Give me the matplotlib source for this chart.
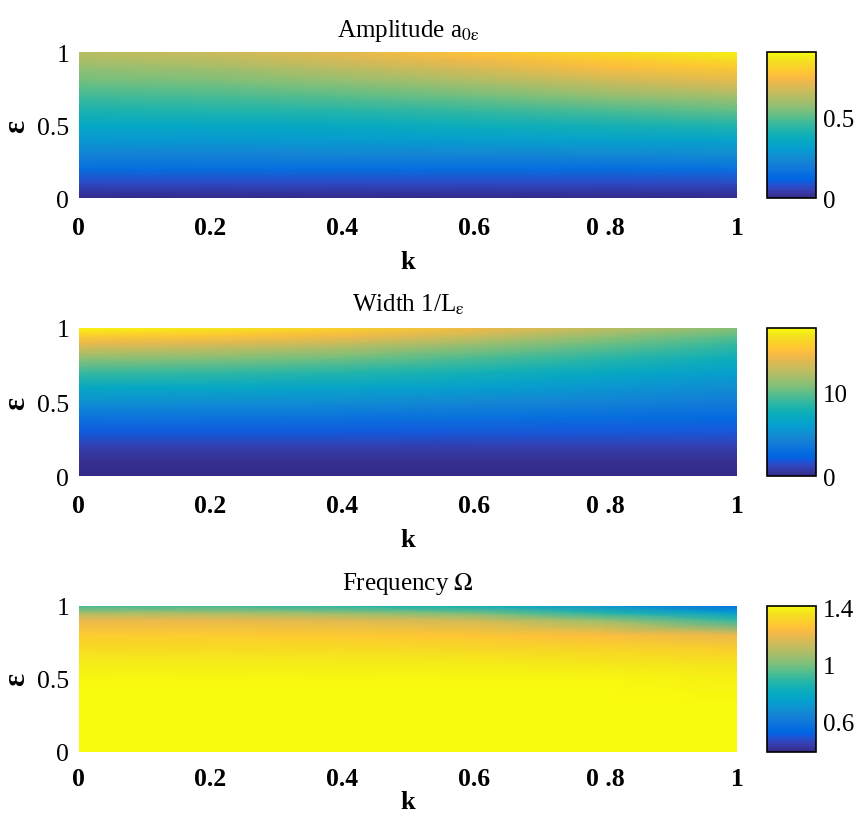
import numpy as np
import matplotlib
matplotlib.use("Agg")
import matplotlib.pyplot as plt
from matplotlib.colors import LinearSegmentedColormap

plt.rcParams['font.family'] = ['Liberation Serif', 'DejaVu Serif']
plt.rcParams['mathtext.fontset'] = 'stix'

# MATLAB parula colormap (64 levels)
PARULA = [
    [0.2081, 0.1663, 0.5292], [0.2116, 0.1898, 0.5777], [0.2123, 0.2138, 0.6270],
    [0.2081, 0.2386, 0.6771], [0.1959, 0.2645, 0.7279], [0.1707, 0.2919, 0.7792],
    [0.1253, 0.3242, 0.8303], [0.0591, 0.3598, 0.8683], [0.0117, 0.3875, 0.8820],
    [0.0060, 0.4086, 0.8828], [0.0165, 0.4266, 0.8786], [0.0329, 0.4430, 0.8720],
    [0.0498, 0.4586, 0.8641], [0.0629, 0.4737, 0.8554], [0.0723, 0.4887, 0.8467],
    [0.0779, 0.5040, 0.8384], [0.0793, 0.5200, 0.8312], [0.0749, 0.5375, 0.8263],
    [0.0641, 0.5570, 0.8240], [0.0488, 0.5772, 0.8228], [0.0343, 0.5966, 0.8199],
    [0.0265, 0.6137, 0.8135], [0.0239, 0.6287, 0.8038], [0.0231, 0.6418, 0.7913],
    [0.0228, 0.6535, 0.7768], [0.0267, 0.6642, 0.7607], [0.0384, 0.6743, 0.7436],
    [0.0590, 0.6838, 0.7254], [0.0843, 0.6928, 0.7062], [0.1133, 0.7015, 0.6859],
    [0.1453, 0.7098, 0.6646], [0.1801, 0.7177, 0.6424], [0.2178, 0.7250, 0.6193],
    [0.2586, 0.7317, 0.5954], [0.3022, 0.7376, 0.5712], [0.3482, 0.7424, 0.5473],
    [0.3953, 0.7459, 0.5244], [0.4420, 0.7481, 0.5033], [0.4871, 0.7491, 0.4840],
    [0.5300, 0.7491, 0.4661], [0.5709, 0.7485, 0.4494], [0.6099, 0.7473, 0.4337],
    [0.6473, 0.7456, 0.4188], [0.6834, 0.7435, 0.4044], [0.7184, 0.7411, 0.3905],
    [0.7525, 0.7384, 0.3768], [0.7858, 0.7356, 0.3633], [0.8185, 0.7327, 0.3498],
    [0.8507, 0.7299, 0.3360], [0.8824, 0.7274, 0.3217], [0.9139, 0.7258, 0.3063],
    [0.9450, 0.7261, 0.2886], [0.9739, 0.7314, 0.2666], [0.9938, 0.7455, 0.2403],
    [0.9990, 0.7653, 0.2164], [0.9955, 0.7861, 0.1967], [0.9880, 0.8066, 0.1794],
    [0.9789, 0.8271, 0.1633], [0.9697, 0.8481, 0.1475], [0.9626, 0.8705, 0.1309],
    [0.9589, 0.8949, 0.1132], [0.9598, 0.9218, 0.0948], [0.9661, 0.9514, 0.0755],
    [0.9763, 0.9831, 0.0538],
]
parula = LinearSegmentedColormap.from_list("parula", PARULA, N=256)

# grid
k_vals = [0.0, 0.2, 0.4, 0.6, 0.8, 1.0]
eps_vals = [0.0, 0.1, 0.2, 0.3, 0.4, 0.5, 0.6, 0.7, 0.8, 0.9, 0.95, 1.0]

# amplitude a_0eps (rows: eps, columns: k)
amplitude = [
    [0.00, 0.00, 0.00, 0.00, 0.00, 0.00],
    [0.07, 0.07, 0.07, 0.07, 0.07, 0.07],
    [0.15, 0.15, 0.15, 0.15, 0.15, 0.16],
    [0.22, 0.22, 0.23, 0.23, 0.24, 0.25],
    [0.29, 0.29, 0.30, 0.31, 0.32, 0.33],
    [0.35, 0.35, 0.36, 0.38, 0.40, 0.42],
    [0.41, 0.42, 0.43, 0.45, 0.48, 0.51],
    [0.47, 0.48, 0.50, 0.53, 0.57, 0.60],
    [0.53, 0.54, 0.57, 0.61, 0.66, 0.70],
    [0.58, 0.60, 0.64, 0.69, 0.75, 0.79],
    [0.61, 0.63, 0.68, 0.73, 0.79, 0.84],
    [0.63, 0.66, 0.71, 0.77, 0.83, 0.88],
]

# width 1/L_eps
width = [
    [0.0, 0.0, 0.0, 0.0, 0.0, 0.0],
    [0.25, 0.25, 0.25, 0.25, 0.25, 0.25],
    [0.9, 0.9, 0.9, 0.9, 0.9, 0.9],
    [2.0, 2.0, 2.0, 1.9, 1.9, 1.8],
    [3.4, 3.4, 3.3, 3.2, 3.0, 2.8],
    [5.2, 5.1, 5.0, 4.7, 4.3, 3.9],
    [7.0, 6.9, 6.6, 6.2, 5.6, 5.0],
    [9.0, 8.8, 8.4, 7.8, 7.0, 6.2],
    [11.3, 11.0, 10.5, 9.6, 8.6, 7.5],
    [14.2, 13.8, 13.0, 11.8, 10.4, 9.0],
    [15.8, 15.4, 14.5, 13.1, 11.4, 10.0],
    [17.5, 17.0, 16.0, 14.4, 12.6, 11.0],
]

# frequency Omega
frequency = [
    [1.41, 1.41, 1.41, 1.41, 1.41, 1.41],
    [1.41, 1.41, 1.41, 1.41, 1.41, 1.41],
    [1.41, 1.41, 1.41, 1.41, 1.41, 1.41],
    [1.41, 1.41, 1.41, 1.41, 1.41, 1.41],
    [1.41, 1.41, 1.41, 1.41, 1.41, 1.40],
    [1.40, 1.40, 1.40, 1.40, 1.40, 1.39],
    [1.38, 1.38, 1.38, 1.38, 1.37, 1.36],
    [1.34, 1.34, 1.34, 1.33, 1.32, 1.30],
    [1.29, 1.29, 1.28, 1.27, 1.24, 1.20],
    [1.20, 1.20, 1.18, 1.15, 1.05, 0.90],
    [1.08, 1.08, 1.05, 1.00, 0.88, 0.75],
    [0.92, 0.92, 0.88, 0.82, 0.70, 0.56],
]

titles = [r"Amplitude a$_{\mathrm{0ε}}$", r"Width 1/L$_{\mathrm{ε}}$", r"Frequency $\Omega$"]
fields = [amplitude, width, frequency]
clims = [(0.0, 0.9), (0.0, 17.7), (0.39, 1.41)]
cticks = [[0, 0.5], [0, 10], [0.6, 1, 1.4]]
cticklabels = [["0", "0.5"], ["0", "10"], ["0.6", "1", "1.4"]]

# panel positions in figure fraction: (bottom, top)
rows = [(0.757, 0.935), (0.418, 0.599), (0.082, 0.260)]
xtick_pads = [13, 13, 11]
xlabel_pads = [8, 8, 0]
ax_left, ax_right = 0.092, 0.859
cb_left, cb_right = 0.894, 0.951

fig = plt.figure(figsize=(8.58, 8.20), dpi=100)
K, E = np.meshgrid(k_vals, eps_vals)
xticks = [0, 0.2, 0.4, 0.6, 0.8, 1]
xticklabels = ["0", "0.2", "0.4", "0.6", "0 .8", "1"]

for i in range(3):
    b, t = rows[i]
    ax = fig.add_axes([ax_left, b, ax_right - ax_left, t - b])
    Z = np.array(fields[i])
    m = ax.pcolormesh(K, E, Z, shading='gouraud', cmap=parula,
                      vmin=clims[i][0], vmax=clims[i][1], rasterized=True)
    ax.set_xlim(0, 1)
    ax.set_ylim(0, 1)
    for s in ax.spines.values():
        s.set_visible(False)
    ax.set_xticks(xticks)
    ax.set_xticklabels(xticklabels)
    ax.set_yticks([0, 0.5, 1])
    ax.set_yticklabels(["0", "0.5", "1"])
    ax.tick_params(axis='x', length=0, labelsize=18.5, pad=xtick_pads[i])
    ax.tick_params(axis='y', length=0, labelsize=18.5, pad=7)
    for lab in ax.get_xticklabels():
        lab.set_fontweight('bold')
    ax.set_xlabel("k", fontsize=19, fontweight='bold', labelpad=xlabel_pads[i])
    ax.set_ylabel("ε", fontsize=22, fontweight='bold', labelpad=4)
    ax.set_title(titles[i], fontsize=18, pad=12)

    cax = fig.add_axes([cb_left, b, cb_right - cb_left, t - b])
    cb = fig.colorbar(m, cax=cax)
    cb.set_ticks(cticks[i])
    cb.set_ticklabels(cticklabels[i])
    cb.ax.tick_params(length=0, labelsize=18, pad=5)
    cb.outline.set_linewidth(1.2)

fig.savefig("out.png", dpi=100)
